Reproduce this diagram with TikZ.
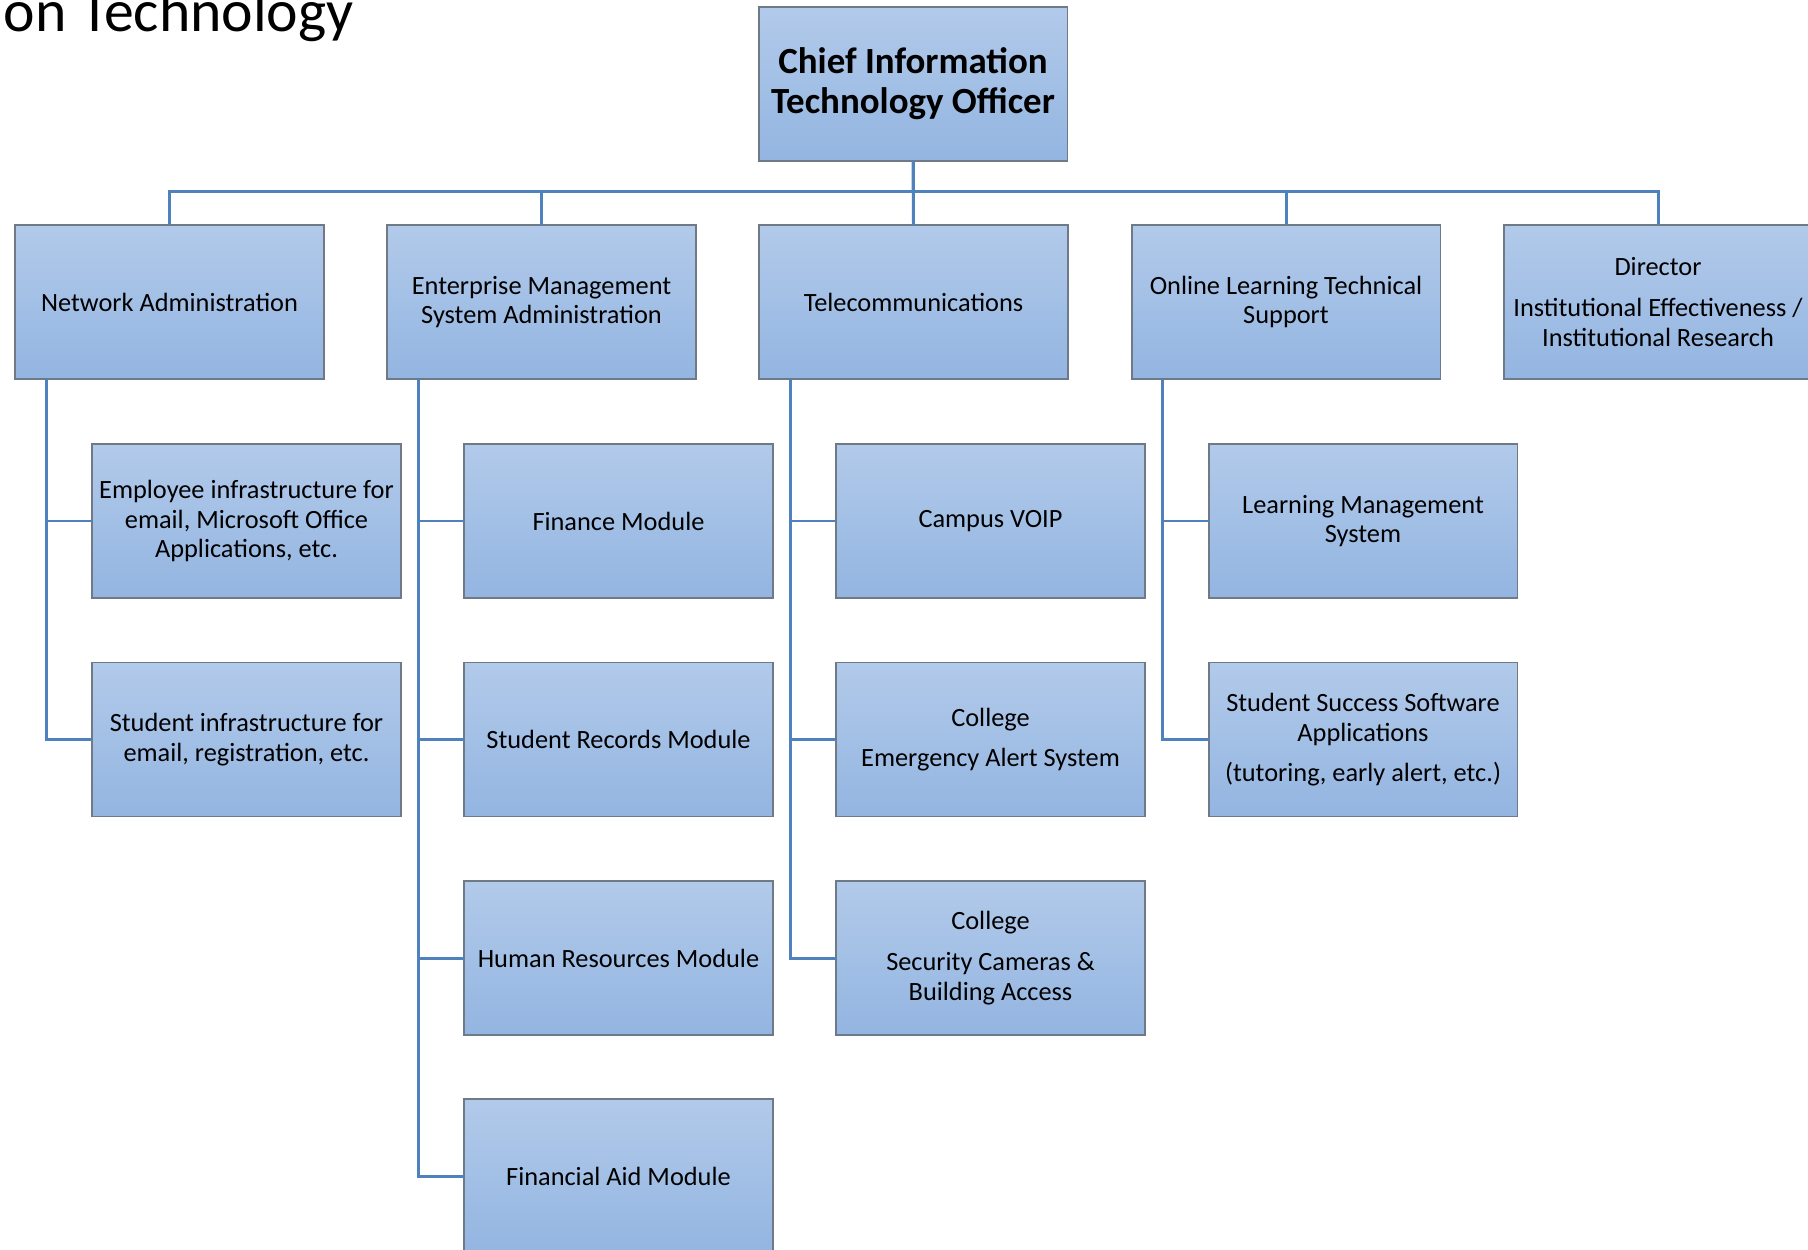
\documentclass[tikz,border=0pt]{standalone}
\usepackage{fontspec}
\setmainfont{Carlito}
\definecolor{boxtop}{RGB}{178,202,234}
\definecolor{boxbot}{RGB}{147,181,225}
\definecolor{boxline}{RGB}{112,122,134}
\definecolor{linkblue}{RGB}{79,129,189}
\tikzset{
  unit/.style={draw=boxline, line width=1.1pt, top color=boxtop, bottom color=boxbot,
    minimum width=6.18cm, minimum height=3.08cm, inner sep=1pt, outer sep=0pt,
    align=center, font=\fontsize{15}{17}\selectfont},
  link/.style={draw=linkblue, line width=1.7pt}
}
\begin{document}
\begin{tikzpicture}[x=0.02cm, y=-0.02cm]
  \clip (0,0) rectangle (1808,1250);
  \node[anchor=base east, inner sep=0pt, font=\fontsize{34}{40}\selectfont] (head) at (354,32) {on Technology}; % title cut at slide edge
  \node[unit, font=\fontsize{21}{22.7}\selectfont\bfseries] (cito) at (913,84) {Chief Information\\Technology Officer};
  % first level
  \node[unit] (net) at (169.5,302) {Network Administration};
  \node[unit] (ems) at (541.5,302) {Enterprise Management\\System Administration};
  \node[unit] (tel) at (913.5,302) {Telecommunications};
  \node[unit] (ol) at (1286,302) {Online Learning Technical\\Support};
  \node[unit] (dir) at (1658,302) {Director\\[6pt]Institutional Effectiveness /\\Institutional Research};
  % second level
  \node[unit] (emp) at (246.5,521) {Employee infrastructure for\\email, Microsoft Office\\Applications, etc.};
  \node[unit] (stu) at (246.5,739.5) {Student infrastructure for\\email, registration, etc.};
  \node[unit] (fin) at (618.5,521) {Finance Module};
  \node[unit] (rec) at (618.5,739.5) {Student Records Module};
  \node[unit] (hr) at (618.5,958) {Human Resources Module};
  \node[unit] (aid) at (618.5,1176) {Financial Aid Module};
  \node[unit] (voip) at (990.5,521) {Campus VOIP};
  \node[unit] (alert) at (990.5,739.5) {College\\[6pt]Emergency Alert System};
  \node[unit] (cam) at (990.5,958) {College\\[6pt]Security Cameras \&\\Building Access};
  \node[unit] (lms) at (1363,521) {Learning Management\\System};
  \node[unit] (succ) at (1363,739.5) {Student Success Software\\Applications\\[6pt](tutoring, early alert, etc.)};
  % connectors
  \draw[link] (cito.south) -- (tel.north);
  \foreach \n in {net,ems,ol,dir}{\draw[link] (cito.south) -- ++(0,31) -| (\n.north);}
  \foreach \p/\c in {net/emp,net/stu,ems/fin,ems/rec,ems/hr,ems/aid,tel/voip,tel/alert,tel/cam,ol/lms,ol/succ}{
    \draw[link] ([xshift=0.62cm]\p.south west) |- (\c.west);
  }
\end{tikzpicture}
\end{document}
